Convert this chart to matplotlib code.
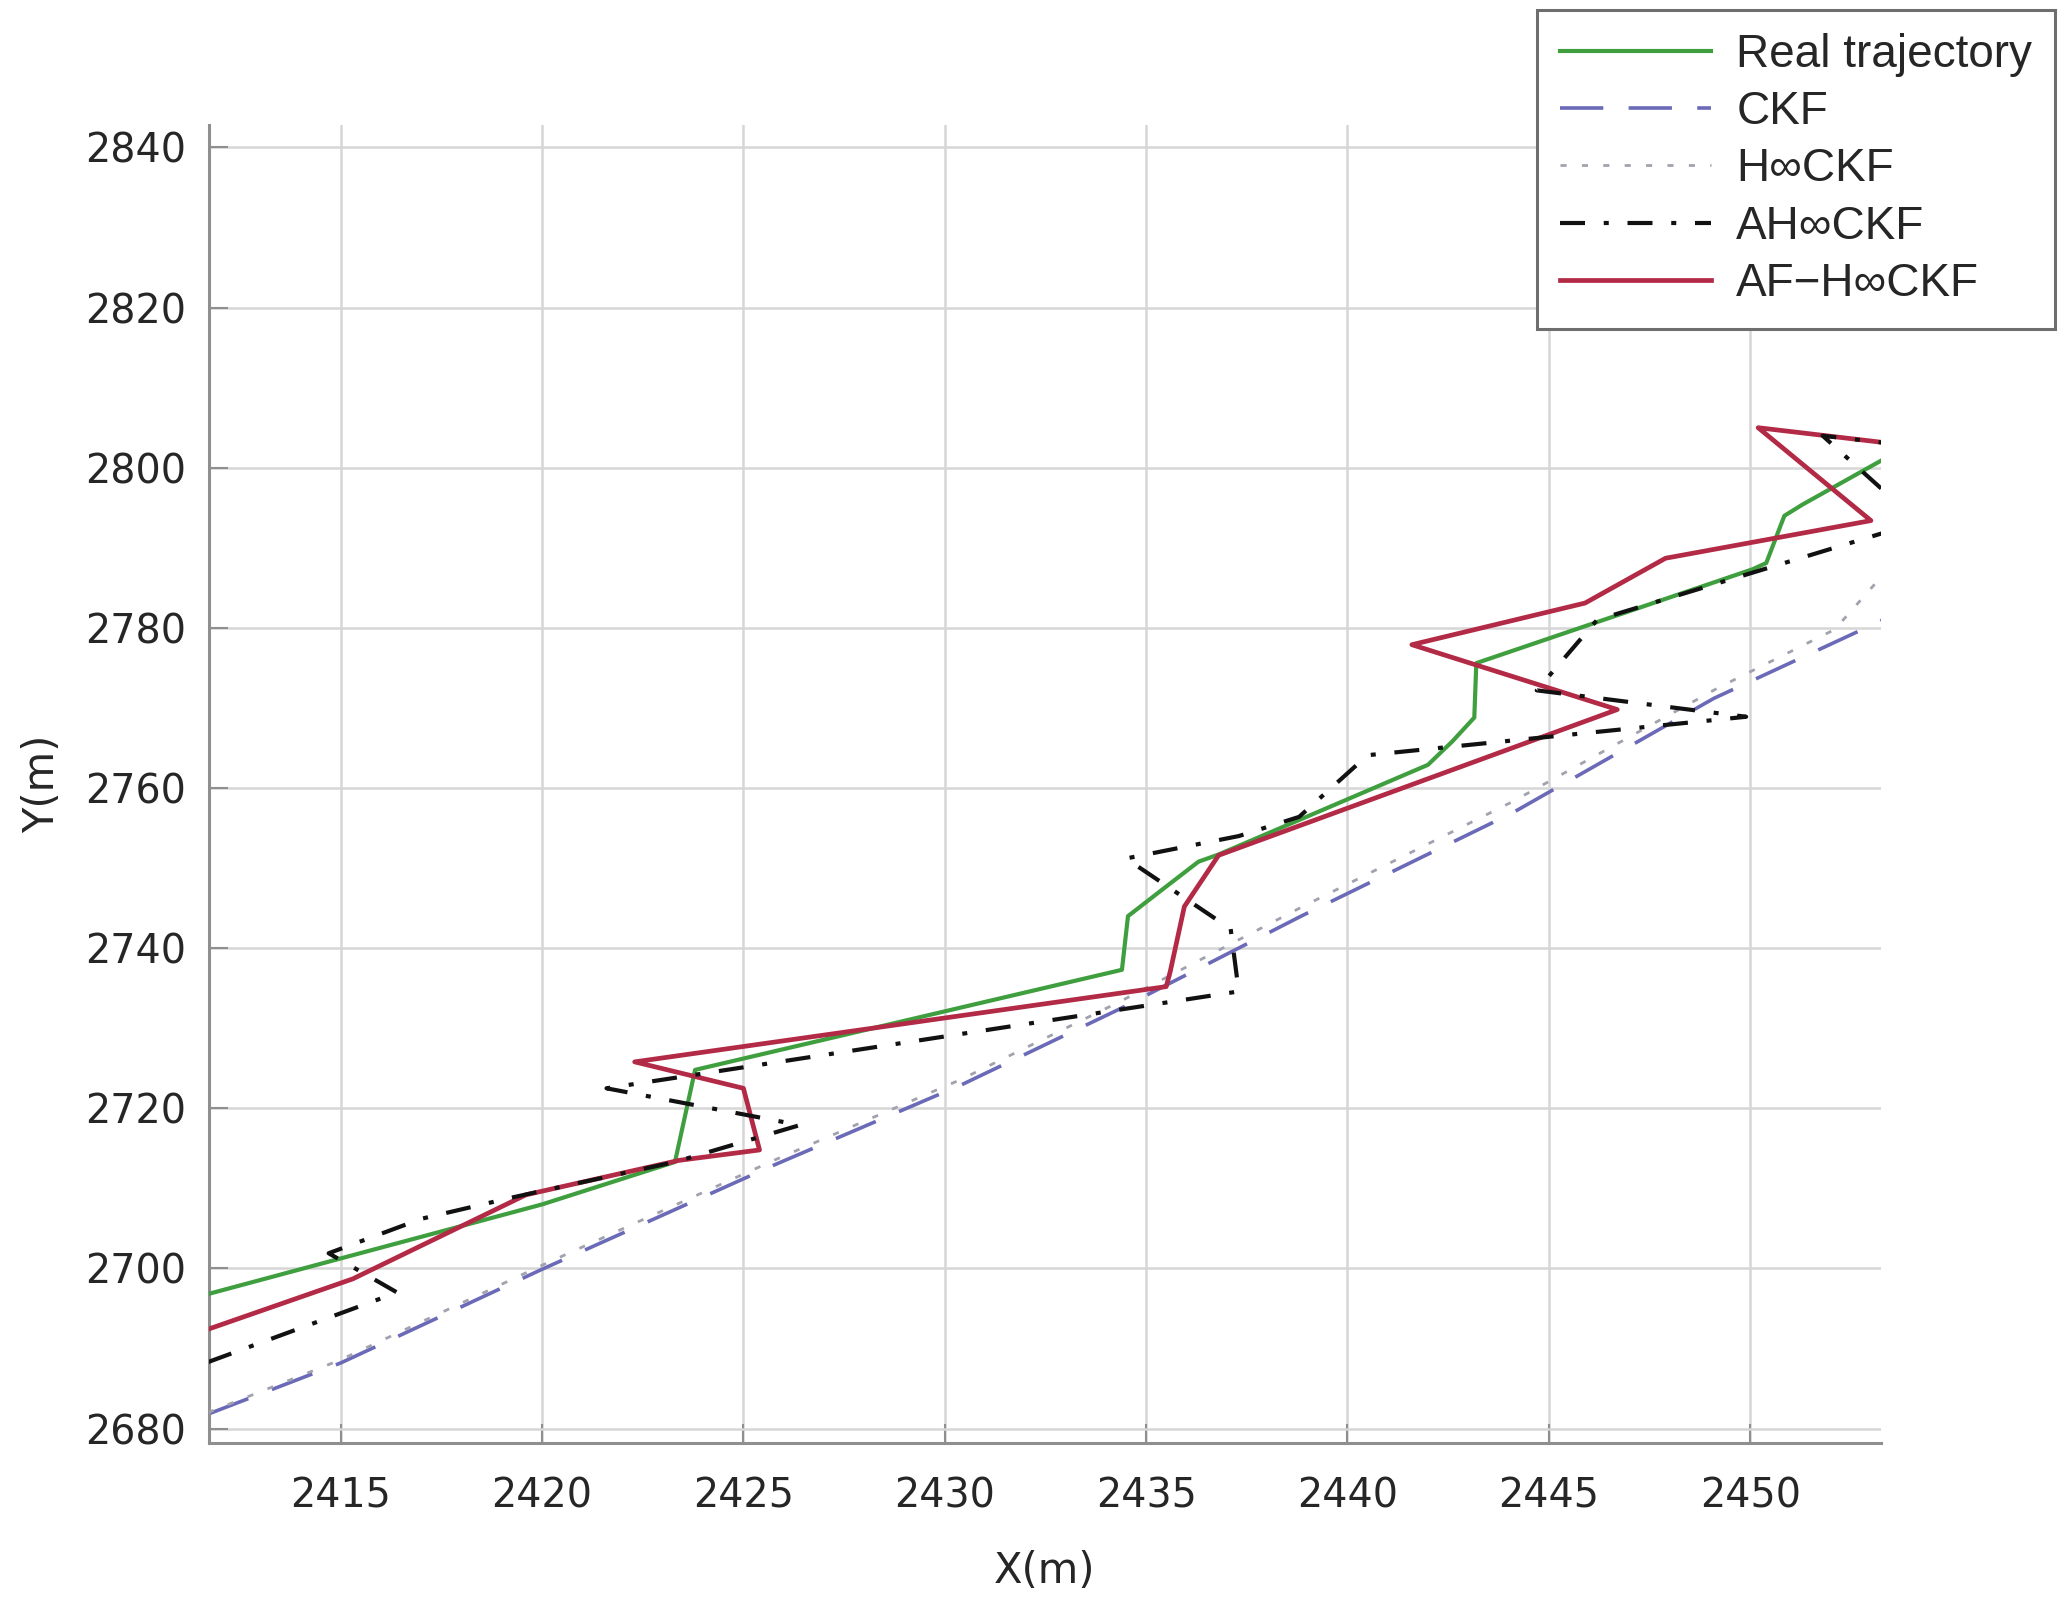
import matplotlib
matplotlib.use("Agg")
import matplotlib.pyplot as plt
import numpy as np

# trajectories (X, Y in metres)
real_x = [2411.7, 2420.0, 2423.3, 2423.8, 2434.4, 2434.55, 2435.5, 2436.3, 2436.8, 2442.0,
          2442.35, 2442.6, 2443.15, 2443.2, 2450.05, 2450.4, 2450.85, 2451.3, 2453.4]
real_y = [2696.8, 2708.0, 2713.3, 2724.8, 2737.3, 2744.0, 2747.7, 2750.8, 2751.7, 2762.9,
          2764.6, 2765.8, 2768.8, 2775.6, 2787.3, 2788.1, 2794.0, 2795.4, 2801.3]

ckf_x = [2411.7, 2415.0, 2420.0, 2425.8, 2430.4, 2434.3, 2438.85, 2444.1, 2449.1, 2453.3]
ckf_y = [2681.8, 2688.2, 2699.9, 2713.0, 2722.9, 2732.3, 2744.0, 2756.9, 2771.2, 2781.0]

hinf_x = [2411.7, 2415.0, 2420.0, 2425.8, 2430.4, 2434.3, 2438.85, 2444.1, 2449.2, 2452.1, 2453.4]
hinf_y = [2682.0, 2688.6, 2700.4, 2713.6, 2723.6, 2733.2, 2745.1, 2758.3, 2772.5, 2779.8, 2787.2]

ah_x = [2411.7, 2416.4, 2414.7, 2417.0, 2419.2, 2423.3, 2426.4, 2421.6, 2437.3, 2437.1, 2434.5,
        2437.3, 2438.8, 2440.5, 2449.9, 2444.7, 2446.2, 2453.4, 2456.5, 2451.8, 2455.0]
ah_y = [2688.3, 2697.0, 2701.9, 2706.2, 2708.8, 2713.3, 2717.9, 2722.5, 2734.6, 2742.4, 2751.2,
        2754.0, 2756.4, 2764.1, 2768.9, 2772.2, 2781.0, 2792.0, 2801.3, 2804.0, 2789.5]

af_x = [2411.7, 2415.3, 2419.6, 2423.4, 2425.4, 2425.0, 2422.3, 2435.5, 2435.6, 2435.95,
        2436.8, 2446.7, 2441.6, 2445.9, 2447.9, 2453.0, 2450.2, 2453.4]
af_y = [2692.4, 2698.7, 2709.2, 2713.5, 2714.8, 2722.5, 2725.8, 2735.2, 2737.1, 2745.2,
        2751.6, 2769.8, 2777.9, 2783.1, 2788.7, 2793.4, 2805.0, 2803.1]

labels = ['Real trajectory', 'CKF', 'H\u221eCKF', 'AH\u221eCKF', 'AF\u2212H\u221eCKF']
x_ticks = [2415, 2420, 2425, 2430, 2435, 2440, 2445, 2450]
y_ticks = [2680, 2700, 2720, 2740, 2760, 2780, 2800, 2820, 2840]

plt.rcParams['font.family'] = ['DejaVu Sans']

fig = plt.figure(figsize=(20.7, 16.03), dpi=100)
ax = fig.add_axes([0.1008, 0.0998, 0.8079, 0.8222])

h_real, = ax.plot(real_x, real_y, color='#3f9f3f', lw=3.0, zorder=4)
h_ckf, = ax.plot(ckf_x, ckf_y, color='#6a6ab8', lw=2.6, linestyle=(0, (12, 7)), zorder=2)
h_hinf, = ax.plot(hinf_x, hinf_y, color='#a2a2ae', lw=2.0, linestyle=(0, (2.2, 5.5)), zorder=3)
h_af, = ax.plot(af_x, af_y, color='#b22a45', lw=3.4, zorder=5)
h_ah, = ax.plot(ah_x, ah_y, color='#111111', lw=3.0, linestyle=(0, (6, 4.5, 1.2, 4.5)), zorder=6)

ax.set_xlim(2411.72, 2453.25)
ax.set_ylim(2678.2, 2842.8)
ax.set_xticks(x_ticks)
ax.set_yticks(y_ticks)
ax.grid(True, color='#d6d6d6', lw=1.8)
ax.set_axisbelow(True)

for side in ['top', 'right']:
    ax.spines[side].set_visible(False)
for side in ['left', 'bottom']:
    ax.spines[side].set_color('#8f8f8f')
    ax.spines[side].set_linewidth(2.2)

ax.tick_params(axis='both', direction='in', length=14, width=1.5, color='#8f8f8f',
               labelsize=28.5, labelcolor='#262626')
ax.tick_params(axis='x', pad=24)
ax.tick_params(axis='y', pad=16)

ax.set_xlabel('X(m)', fontsize=30, color='#262626', labelpad=24)
ax.set_ylabel('Y(m)', fontsize=30, color='#262626', labelpad=16)

leg = fig.legend([h_real, h_ckf, h_hinf, h_ah, h_af], labels,
                 loc='upper right', bbox_to_anchor=(0.9928, 0.9938), borderaxespad=0,
                 prop={'family': ['Liberation Sans', 'DejaVu Sans'], 'size': 33},
                 handlelength=3.3, handletextpad=0.55, labelspacing=0.29,
                 borderpad=0.5, fancybox=False, framealpha=1)
leg.get_frame().set_edgecolor('#6e6e6e')
leg.get_frame().set_linewidth(2.2)
for t in leg.get_texts():
    t.set_color('#262626')

fig.savefig('out.png', dpi=100)
